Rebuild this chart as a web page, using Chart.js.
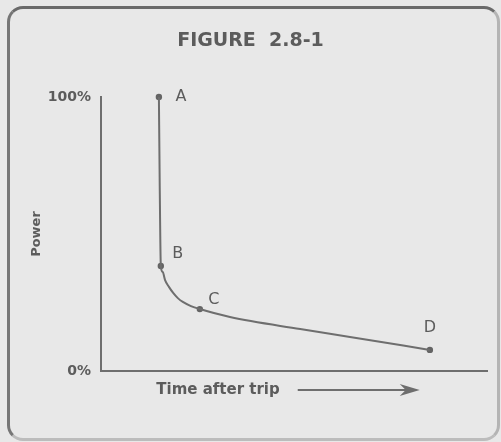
<!DOCTYPE html>
<html>
<head>
<meta charset="utf-8">
<script src="https://cdn.jsdelivr.net/npm/chart.js@4.4.1/dist/chart.umd.min.js"></script>
<style>
  html, body { margin: 0; padding: 0; background: #e8e8e8; }
  #wrap { position: relative; width: 501px; height: 442px; overflow: hidden; }
  #frame {
    position: absolute; left: 7px; top: 6px; width: 487px; height: 429px;
    border: 3px solid #6a6a6a; border-right-color: #b4b4b4; border-bottom-color: #bcbcbc;
    border-left-color: #767676;
    border-radius: 16px; pointer-events: none;
  }
  canvas { position: absolute; left: 0; top: 0; }
</style>
</head>
<body>
<div id="wrap">
  <div id="frame"></div>
  <canvas id="c" width="501" height="442"></canvas>
</div>
<script>
// Marked states along the decay curve
const pointNames = ['A', 'B', 'C', 'D'];
const pointTime  = [15.0, 15.5, 25.6, 85.2];
const pointPower = [100, 38.3, 22.6, 7.7];

// Power after trip
const curveTime  = [15.0, 15.2, 15.5, 16.0, 16.6, 17.6, 18.7, 19.9, 21.2, 23.3, 25.6, 33.4, 51.6, 64.5, 85.2];
const curvePower = [100, 69.7, 38.3, 36.1, 33.2, 30.7, 28.5, 26.6, 25.2, 23.7, 22.6, 19.7, 15.3, 12.4, 7.7];

// Y-axis tick labels
const yTickValues = [0, 100];
const yTickLabels = ['0%', '100%'];

const ink = '#5c5c5c';
const lineInk = '#6e6e6e';
const FONT = '"DejaVu Sans", sans-serif';

const curveData = curveTime.map((t, i) => ({ x: t, y: curvePower[i] }));
const keyData = pointTime.map((t, i) => ({ x: t, y: pointPower[i] }));

// Offsets of each point letter from its dot
const letterOffsets = { A: [22, 0], B: [17, -12], C: [14, -9], D: [0, -22] };

const annotate = {
  id: 'annotate',
  afterDatasetsDraw(chart) {
    const { ctx, chartArea } = chart;
    const meta = chart.getDatasetMeta(1);
    ctx.save();
    ctx.fillStyle = ink;
    ctx.font = '16px ' + FONT;
    ctx.textAlign = 'center';
    ctx.textBaseline = 'middle';
    meta.data.forEach((el, i) => {
      const name = pointNames[i];
      const off = letterOffsets[name];
      ctx.fillText(name, el.x + off[0], el.y + off[1]);
    });

    // Horizontal axis caption with a direction arrow
    const caption = 'Time after trip';
    ctx.font = 'bold 15px ' + FONT;
    const tw = ctx.measureText(caption).width;
    const gap = 18, arrowLen = 122;
    const total = tw + gap + arrowLen;
    const cx = (chartArea.left + chartArea.right) / 2 - 6;
    const x0 = cx - total / 2;
    const y = chartArea.bottom + 19;
    ctx.textAlign = 'left';
    ctx.fillText(caption, x0, y);
    const ax0 = x0 + tw + gap, ax1 = ax0 + arrowLen;
    ctx.strokeStyle = lineInk;
    ctx.lineWidth = 2;
    ctx.beginPath();
    ctx.moveTo(ax0, y);
    ctx.lineTo(ax1 - 6, y);
    ctx.stroke();
    ctx.fillStyle = lineInk;
    ctx.beginPath();
    ctx.moveTo(ax1, y);
    ctx.lineTo(ax1 - 20, y - 6);
    ctx.lineTo(ax1 - 14, y);
    ctx.lineTo(ax1 - 20, y + 6);
    ctx.closePath();
    ctx.fill();
    ctx.restore();
  }
};

new Chart(document.getElementById('c'), {
  type: 'scatter',
  data: {
    datasets: [
      {
        data: curveData,
        showLine: true,
        borderColor: lineInk,
        borderWidth: 2,
        pointRadius: 0,
        cubicInterpolationMode: 'monotone',
        clip: false
      },
      {
        data: keyData,
        showLine: false,
        pointRadius: 3.2,
        pointBackgroundColor: '#646464',
        pointBorderColor: '#646464',
        pointBorderWidth: 0,
        clip: false
      }
    ]
  },
  options: {
    responsive: false,
    animation: false,
    events: [],
    layout: { padding: { left: 14, right: 14, top: 0, bottom: 0 } },
    plugins: {
      legend: { display: false },
      tooltip: { enabled: false },
      title: {
        display: true,
        text: 'FIGURE  2.8-1',
        color: ink,
        font: { family: FONT, size: 19, weight: 'bold' },
        padding: { top: 30, bottom: 44.2 }
      }
    },
    scales: {
      x: {
        type: 'linear',
        min: 0,
        max: 100,
        ticks: { display: false },
        grid: { display: false, drawTicks: false },
        border: { display: true, color: lineInk, width: 2 },
        afterFit(scale) { scale.height = 71; }
      },
      y: {
        type: 'linear',
        min: 0,
        max: 100,
        afterBuildTicks(scale) { scale.ticks = yTickValues.map(v => ({ value: v })); },
        ticks: {
          padding: 10,
          color: ink,
          font: { family: FONT, size: 14, weight: 'bold' },
          callback(v) { return yTickLabels[yTickValues.indexOf(v)]; }
        },
        grid: { display: false, drawTicks: false },
        border: { display: true, color: lineInk, width: 2 },
        title: {
          display: true,
          text: 'Power',
          color: ink,
          font: { family: FONT, size: 13, weight: 'bold' },
          padding: { top: 15, bottom: 0 }
        },
        afterFit(scale) { scale.width = 87; }
      }
    }
  },
  plugins: [annotate]
});
</script>
</body>
</html>
